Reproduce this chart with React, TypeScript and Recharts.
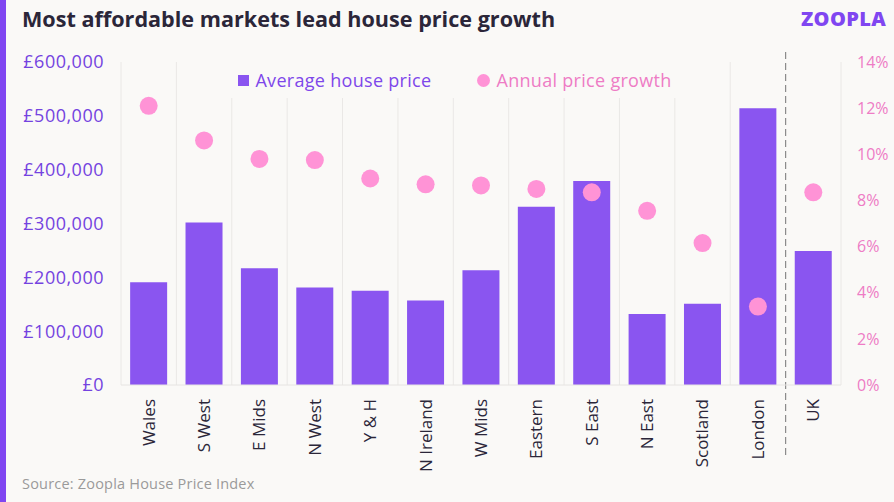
import React from 'react'
import { ComposedChart, Bar, Scatter, XAxis, YAxis, CartesianGrid, Legend } from 'recharts'

const regions = ['Wales', 'S West', 'E Mids', 'N West', 'Y & H', 'N Ireland', 'W Mids', 'Eastern', 'S East', 'N East', 'Scotland', 'London', 'UK']
const averagePrice = [191000, 302000, 217000, 181000, 175000, 157000, 213000, 331000, 379000, 132000, 151000, 514000, 249000]
const priceGrowth = [12.1, 10.6, 9.8, 9.75, 8.95, 8.7, 8.65, 8.5, 8.35, 7.55, 6.15, 3.4, 8.35]
const priceTicks = [0, 100000, 200000, 300000, 400000, 500000, 600000]
const growthTicks = [0, 2, 4, 6, 8, 10, 12, 14]

const data = regions.map((region, i) => ({
  region,
  price: averagePrice[i],
  growth: priceGrowth[i]
}))

const BG = '#FAF9F7'
const PURPLE = '#8A55F0'
const PINK = '#FF93D6'
const PINK_TEXT = '#EE7CC5'
const DARK = '#2B2639'
const FONT = '"Open Sans", sans-serif'

const formatPrice = (v: number) => '£' + v.toLocaleString('en-GB')

const RegionTick = ({ x, y, payload }: any) => (
  <g transform={`translate(${x},${y})`}>
    <text transform="rotate(-90)" x={-12} dy="0.35em" textAnchor="end" fill={DARK} fontSize={17} fontFamily={FONT}>
      {payload.value}
    </text>
  </g>
)

const GridLine = (props: any) => {
  const { x1, x2, y1, y2, index } = props
  if (index === regions.length - 1) {
    return <line x1={x1} x2={x2} y1={y1 - 10} y2={y2 + 73} stroke="#8C8C8C" strokeWidth={1.2} strokeDasharray="7 4" />
  }
  return <line x1={x1} x2={x2} y1={y1} y2={y2} stroke="#EAE8E6" strokeWidth={1} />
}

const LegendContent = ({ payload }: any) => {
  const items = [...(payload || [])].sort((a: any, b: any) => (a.dataKey === 'price' ? -1 : b.dataKey === 'price' ? 1 : 0))
  return (
    <div style={{ display: 'flex', justifyContent: 'center', alignItems: 'center', gap: 46, height: '100%', fontFamily: FONT, fontSize: 18, letterSpacing: 0.3 }}>
      {items.map((entry: any) => {
        const isPrice = entry.dataKey === 'price'
        return (
          <div key={entry.dataKey} style={{ display: 'flex', alignItems: 'center', gap: 6, color: isPrice ? '#7E47EA' : PINK_TEXT }}>
            <span style={{ width: isPrice ? 11 : 13, height: isPrice ? 11 : 13, background: isPrice ? PURPLE : PINK, borderRadius: isPrice ? 0 : '50%', display: 'inline-block' }} />
            <span>{entry.value}</span>
          </div>
        )
      })}
    </div>
  )
}

export default function App() {
  return (
    <div style={{ position: 'fixed', left: 0, top: 0, width: 894, height: 502, background: BG, overflow: 'hidden' }}>
      <div style={{ position: 'absolute', left: 0, top: 0, width: 6, height: 502, background: '#8046F1' }} />
      <div style={{ position: 'absolute', left: 22, top: 4, fontFamily: FONT, fontWeight: 700, fontSize: 21.6, color: DARK, letterSpacing: 0 }}>
        Most affordable markets lead house price growth
      </div>
      <div style={{ position: 'absolute', left: 801, top: 5, fontFamily: FONT, fontWeight: 800, fontSize: 20, color: '#8046F1', letterSpacing: 0.4 }}>
        ZOOPLA
      </div>
      <div style={{ position: 'absolute', left: 22, top: 474, fontFamily: FONT, fontSize: 14.5, color: '#9A9A9A', letterSpacing: 0.2 }}>
        Source: Zoopla House Price Index
      </div>
      <div style={{ position: 'absolute', left: 0, top: 0 }}>
        <ComposedChart width={894} height={502} data={data} margin={{ top: 62, right: 0, bottom: 27, left: 0 }} barCategoryGap="16.5%">
          <CartesianGrid
            horizontal={false}
            vertical={GridLine}
            verticalCoordinatesGenerator={({ offset }: any) =>
              Array.from({ length: regions.length + 1 }, (_, i) => offset.left + (i * offset.width) / regions.length)
            }
          />
          <XAxis dataKey="region" interval={0} height={90} tickLine={false} tickSize={0} axisLine={{ stroke: '#E6E4E2' }} tick={<RegionTick />} />
          <YAxis
            yAxisId="price"
            orientation="left"
            width={121}
            domain={[0, 600000]}
            ticks={priceTicks}
            tickFormatter={formatPrice}
            axisLine={false}
            tickLine={false}
            tickSize={0}
            tickMargin={17}
            tick={{ fill: '#7443E0', fontSize: 18, fontFamily: FONT, letterSpacing: 0.5 }}
          />
          <YAxis
            yAxisId="growth"
            orientation="right"
            width={53}
            domain={[0, 14]}
            ticks={growthTicks}
            tickFormatter={(v: number) => `${v}%`}
            axisLine={false}
            tickLine={false}
            tickSize={0}
            tickMargin={16}
            tick={{ fill: PINK_TEXT, fontSize: 16, fontFamily: FONT }}
          />
          <Legend
            layout="horizontal"
            verticalAlign="middle"
            align="center"
            content={<LegendContent />}
            wrapperStyle={{ position: 'absolute', top: 62, left: 200, width: 510, height: 36, background: BG }}
          />
          <Bar yAxisId="price" dataKey="price" name="Average house price" fill={PURPLE} isAnimationActive={false} />
          <Scatter
            yAxisId="growth"
            dataKey="growth"
            name="Annual price growth"
            fill={PINK}
            isAnimationActive={false}
            shape={(p: any) => <circle cx={p.cx} cy={p.cy} r={9} fill={PINK} />}
          />
        </ComposedChart>
      </div>
    </div>
  )
}
